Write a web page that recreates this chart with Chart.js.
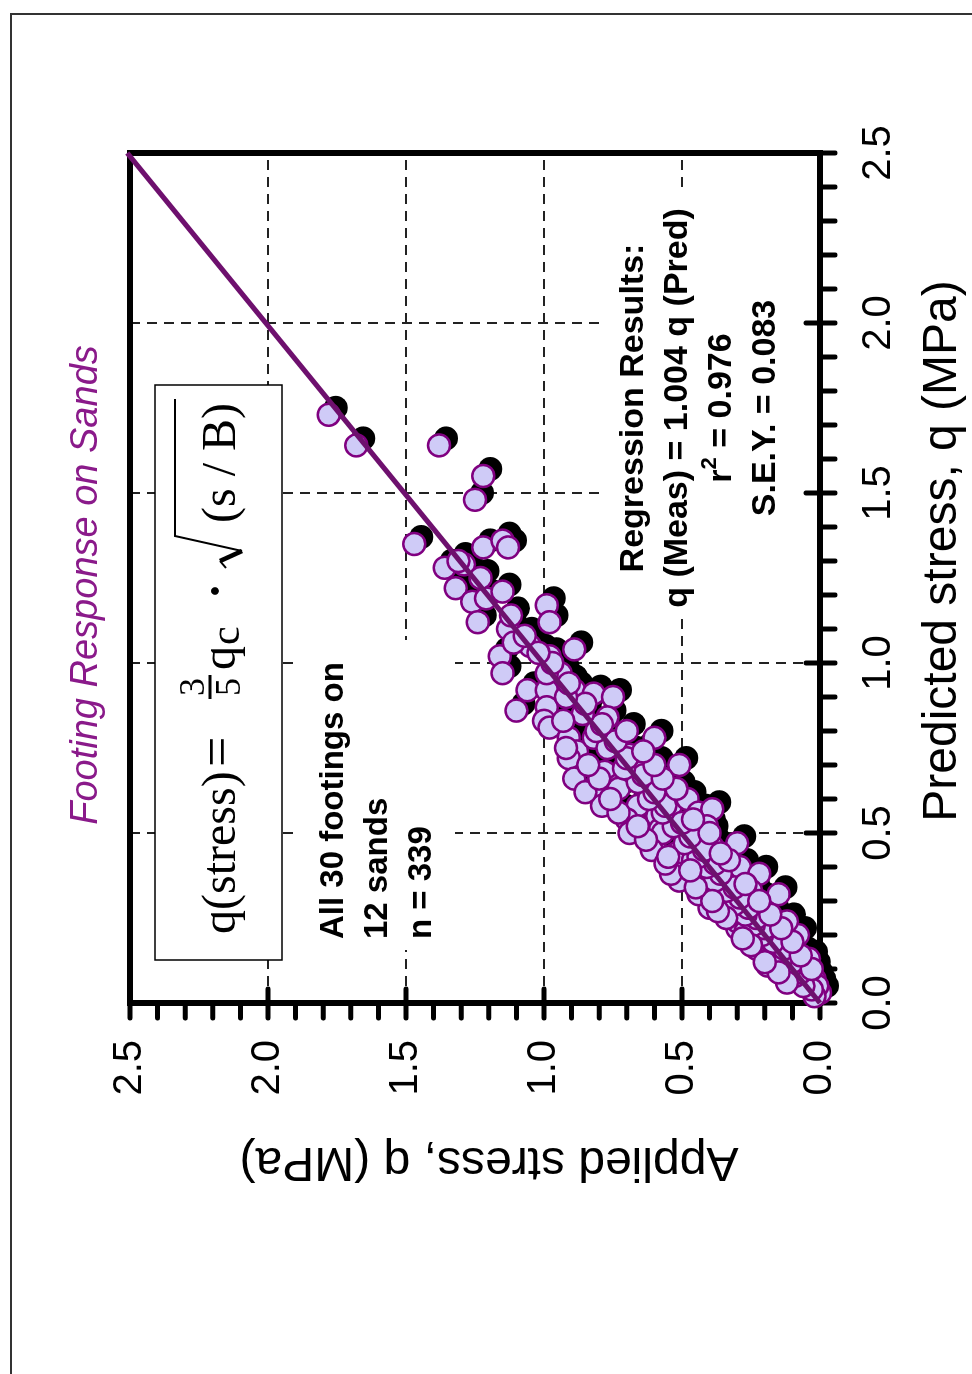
<!DOCTYPE html>
<html>
<head>
<meta charset="utf-8">
<script src="https://cdn.jsdelivr.net/npm/chart.js@4.4.0/dist/chart.umd.min.js"></script>
<style>
  html, body { margin: 0; padding: 0; background: #fff; }
  body { width: 972px; height: 1374px; position: relative; overflow: hidden; }
  #frame { position: absolute; left: 10px; top: 13px; width: 1000px; height: 1400px;
           border-top: 2px solid #333; border-left: 2px solid #333; }
  #wrap { position: absolute; left: 0; top: 0; width: 1374px; height: 972px;
          transform-origin: 0 0; transform: translateY(1374px) rotate(-90deg); }
</style>
</head>
<body>
<div id="frame"></div>
<div id="wrap"><canvas id="myChart" width="1374" height="972"></canvas></div>
<script>
var predicted = [
  1.73, 1.64, 1.64, 1.55, 1.48, 1.35, 1.28, 1.29, 1.34, 1.36, 1.34, 1.22, 1.18, 1.19, 1.21, 1.12,
  1.10, 1.17, 1.12, 1.02, 0.97, 1.05, 1.02, 0.92, 0.92, 1.06,
  1.04, 0.86, 0.87, 0.83, 0.81, 0.97, 0.92, 0.91, 0.90, 0.84, 0.78, 0.74, 0.72, 0.66, 0.78, 0.76,
  0.68, 0.64, 0.58, 0.64, 0.71, 0.78, 0.70, 0.58, 0.54, 0.50, 0.55, 0.51, 0.46, 0.58, 0.60, 0.56,
  0.44, 0.38, 0.48, 0.73, 0.75,
  0.63, 0.61, 0.57, 0.50, 0.36, 0.38, 0.52, 0.46, 0.47, 0.37, 0.28, 0.27, 0.40, 0.38, 0.33, 0.32,
  0.24, 0.22, 0.20, 0.16, 0.13, 0.11, 0.11, 0.07, 0.06, 0.03, 0.36, 0.32, 0.24, 0.21, 0.24, 0.19,
  0.15, 0.14, 0.11, 0.07, 0.05, 0.45, 0.41, 0.32, 0.42,
  0.02, 0.04, 0.05, 0.08, 0.09, 0.10, 0.12, 0.13, 0.15, 0.16, 0.18, 0.20, 0.22, 0.23, 0.25, 0.26,
  0.28, 0.29, 0.31, 0.33, 0.34, 0.36, 0.38, 0.40, 0.41, 0.43, 0.45, 0.47, 0.49, 0.52, 0.53, 0.56,
  0.58, 0.60, 0.62, 0.65, 0.67, 0.69, 0.72, 0.75, 0.77, 0.80, 0.82, 0.85, 0.88, 0.90, 0.94, 0.97,
  1.00, 1.03, 1.08, 1.14, 1.25, 1.30,
  0.06, 0.09, 0.12, 0.17, 0.19, 0.25, 0.27, 0.30, 0.34, 0.39, 0.43, 0.48, 0.52, 0.56, 0.60, 0.62,
  0.66, 0.70, 0.83,
  0.10, 0.14, 0.18, 0.22, 0.26, 0.30, 0.35, 0.42, 0.44, 0.50, 0.54, 0.63, 0.66, 0.70, 0.74, 0.80
];
var measured = [
  1.78, 1.68, 1.38, 1.22, 1.25, 1.47, 1.36, 1.29, 1.22, 1.15, 1.13, 1.32, 1.26, 1.21, 1.15, 1.24,
  1.13, 0.99, 0.98, 1.16, 1.15, 1.05, 0.98, 1.06, 0.99, 1.11,
  0.89, 1.10, 0.99, 1.00, 0.98, 0.94, 0.89, 0.82, 0.75, 0.77, 0.91, 0.88, 0.91, 0.89, 0.82, 0.76,
  0.78, 0.81, 0.79, 0.73, 0.66, 0.60, 0.51, 0.66, 0.70, 0.69, 0.59, 0.58, 0.60, 0.54, 0.48, 0.44,
  0.52, 0.51, 0.45, 0.69, 0.92,
  0.73, 0.59, 0.39, 0.57, 0.51, 0.54, 0.41, 0.39, 0.30, 0.41, 0.40, 0.35, 0.29, 0.22, 0.25, 0.15,
  0.19, 0.30, 0.08, 0.23, 0.04, 0.15, 0.19, 0.08, 0.05, 0.00, 0.35, 0.32, 0.30, 0.27, 0.12, 0.19,
  0.12, 0.17, 0.07, 0.02, 0.01, 0.61, 0.56, 0.44, 0.46,
  0.02, 0.03, 0.06, 0.09, 0.07, 0.11, 0.10, 0.14, 0.16, 0.13, 0.17, 0.21, 0.20, 0.24, 0.23, 0.27,
  0.26, 0.31, 0.29, 0.34, 0.31, 0.38, 0.36, 0.41, 0.38, 0.44, 0.42, 0.49, 0.47, 0.53, 0.50, 0.57,
  0.56, 0.62, 0.60, 0.66, 0.64, 0.71, 0.70, 0.77, 0.74, 0.81, 0.79, 0.86, 0.85, 0.92, 0.91, 0.99,
  0.97, 1.02, 1.07, 1.12, 1.23, 1.31,
  0.12, 0.15, 0.20, 0.25, 0.28, 0.34, 0.37, 0.39, 0.45, 0.47, 0.55, 0.63, 0.66, 0.73, 0.76, 0.85,
  0.80, 0.84, 0.93,
  0.03, 0.07, 0.10, 0.14, 0.18, 0.22, 0.27, 0.33, 0.36, 0.40, 0.46, 0.52, 0.57, 0.60, 0.64, 0.70
];
// regression line q(Meas) = 1.004 q(Pred)
var fitX = [0, 2.5];
var fitY = [0, 2.51];
var tickLabels = ['0.0', '0.5', '1.0', '1.5', '2.0', '2.5'];

var points = predicted.map(function (p, i) { return { x: p, y: measured[i] }; });
var fitLine = fitX.map(function (p, i) { return { x: p, y: fitY[i] }; });

var SANS = '"Liberation Sans", Arial, sans-serif';
var SERIF = '"Liberation Serif", "Times New Roman", serif';

function drawNotes(chart) {
  var ctx = chart.ctx, a = chart.chartArea;
  var L = a.left, T = a.top;
  ctx.save();

  // white patches behind the text blocks hide the grid
  ctx.fillStyle = '#fff';
  ctx.fillRect(L + 53, T + 170, 310, 155);
  ctx.fillRect(L + 388, T + 475, 425, 215);
  ctx.fillRect(L + 43, T + 25, 575, 127);

  ctx.fillStyle = '#000';
  ctx.textBaseline = 'alphabetic';

  // formula box
  ctx.lineWidth = 1.5;
  ctx.strokeStyle = '#000';
  ctx.strokeRect(L + 43, T + 25, 575, 127);
  var base = T + 105;
  ctx.textAlign = 'left';
  ctx.font = '48px ' + SERIF;
  ctx.fillText('q(stress)', L + 69, base);
  ctx.font = '54px ' + SERIF;
  ctx.fillText('=', L + 236, base);
  ctx.font = '36px ' + SERIF;
  ctx.textAlign = 'center';
  ctx.fillText('3', L + 316, base - 31);
  ctx.fillText('5', L + 316, base + 5);
  ctx.lineWidth = 3;
  ctx.beginPath(); ctx.moveTo(L + 304, base - 25); ctx.lineTo(L + 328, base - 25); ctx.stroke();
  ctx.textAlign = 'left';
  ctx.font = '48px ' + SERIF;
  ctx.fillText('q', L + 333, base);
  ctx.font = '42px ' + SERIF;
  ctx.fillText('c', L + 358, base + 4);
  ctx.font = 'bold 48px ' + SERIF;
  ctx.fillText('\u00b7', L + 404, base - 4);
  // radical sign
  ctx.lineWidth = 2;
  ctx.beginPath();
  ctx.moveTo(L + 435, base - 9);
  ctx.lineTo(L + 442, base - 15);
  ctx.stroke();
  ctx.lineWidth = 4.5;
  ctx.beginPath();
  ctx.moveTo(L + 442, base - 15);
  ctx.lineTo(L + 452, base + 7);
  ctx.stroke();
  ctx.lineWidth = 2;
  ctx.beginPath();
  ctx.moveTo(L + 452, base + 7);
  ctx.lineTo(L + 467, base - 60);
  ctx.lineTo(L + 604, base - 60);
  ctx.stroke();
  ctx.font = '48px ' + SERIF;
  ctx.fillText('(s / B)', L + 480, base);

  // sample text
  ctx.font = 'bold 33px ' + SANS;
  ctx.textAlign = 'left';
  ctx.fillText('All 30 footings on', L + 64, T + 213);
  ctx.fillText('12 sands', L + 64, T + 257);
  ctx.fillText('n = 339', L + 64, T + 301);

  // regression results
  var cx = L + 595;
  ctx.font = 'bold 34px ' + SANS;
  ctx.textAlign = 'center';
  ctx.fillText('Regression Results:', cx, T + 513);
  ctx.fillText('q (Meas) = 1.004 q (Pred)', cx, T + 557);
  var rest = ' = 0.976';
  var wR = ctx.measureText('r').width, wRest = ctx.measureText(rest).width;
  ctx.font = 'bold 22px ' + SANS;
  var w2 = ctx.measureText('2').width;
  var x0 = cx - (wR + w2 + wRest) / 2;
  ctx.textAlign = 'left';
  ctx.fillText('2', x0 + wR, T + 586);
  ctx.font = 'bold 34px ' + SANS;
  ctx.fillText('r', x0, T + 601);
  ctx.fillText(rest, x0 + wR + w2, T + 601);
  ctx.textAlign = 'center';
  ctx.fillText('S.E.Y. = 0.083', cx, T + 645);

  // chart title
  ctx.fillStyle = '#8a1a8a';
  ctx.font = 'italic 38px ' + SANS;
  ctx.fillText('Footing Response on Sands', L + 418, T - 33);

  // axis titles
  ctx.fillStyle = '#000';
  ctx.font = '48px ' + SANS;
  ctx.fillText('Predicted stress, q (MPa)', L + 452, a.bottom + 136);
  ctx.translate(226, T + 359);
  ctx.rotate(-Math.PI / 2);
  ctx.fillText('Applied stress, q (MPa)', 0, 0);
  ctx.restore();
}

var decor = {
  id: 'decor',
  beforeDatasetsDraw: function (chart) {
    var ctx = chart.ctx, a = chart.chartArea;
    var xs = chart.scales.x, ys = chart.scales.y;
    ctx.save();
    // dashed grid
    ctx.strokeStyle = '#222';
    ctx.lineWidth = 2;
    ctx.setLineDash([10, 7]);
    [0.5, 1.0, 1.5, 2.0].forEach(function (v) {
      var px = xs.getPixelForValue(v), py = ys.getPixelForValue(v);
      ctx.beginPath(); ctx.moveTo(px, a.top); ctx.lineTo(px, a.bottom); ctx.stroke();
      ctx.beginPath(); ctx.moveTo(a.left, py); ctx.lineTo(a.right, py); ctx.stroke();
    });
    ctx.restore();

    drawNotes(chart);

    ctx.save();
    // ticks
    ctx.strokeStyle = '#000';
    ctx.lineWidth = 5;
    ctx.lineCap = 'round';
    for (var i = 0; i <= 25; i++) {
      var v = i / 10, major = (i % 5 === 0);
      var px = xs.getPixelForValue(v), py = ys.getPixelForValue(v);
      ctx.beginPath();
      ctx.moveTo(px, a.bottom - (major ? 14 : 0)); ctx.lineTo(px, a.bottom + 15);
      ctx.stroke();
      ctx.beginPath();
      ctx.moveTo(a.left + (major ? 14 : 0), py); ctx.lineTo(a.left - 15, py);
      ctx.stroke();
    }
    // frame
    ctx.lineCap = 'butt';
    ctx.lineWidth = 6;
    ctx.strokeRect(a.left, a.top, a.right - a.left, a.bottom - a.top);
    ctx.restore();
  },
  beforeDatasetDraw: function (chart, args) {
    if (args.index === 2) { chart.ctx.save(); chart.ctx.translate(7, 7); }
  },
  afterDatasetDraw: function (chart, args) {
    if (args.index === 2) chart.ctx.restore();
  }
};

var ctx = document.getElementById('myChart');

var myChart = new Chart(ctx, {
  type: 'scatter',
  data: {
    datasets: [{
      label: 'fit',
      data: fitLine,
      showLine: true,
      borderColor: '#6e106e',
      borderWidth: 5,
      pointRadius: 0,
      clip: false
    }, {
      label: 'footings',
      data: points,
      pointRadius: 11,
      pointBorderWidth: 2.5,
      pointBackgroundColor: '#cfcbf7',
      pointBorderColor: '#800080',
      clip: false
    }, {
      label: 'shadow',
      data: points,
      pointRadius: 12,
      pointBorderWidth: 0,
      pointBackgroundColor: '#000',
      pointBorderColor: '#000',
      clip: false
    }]
  },
  options: {
    responsive: false,
    animation: false,
    layout: { padding: { top: 130, right: 153, left: 0, bottom: 0 } },
    plugins: { legend: { display: false }, tooltip: { enabled: false }, title: { display: false } },
    scales: {
      x: {
        type: 'linear', min: 0, max: 2.5,
        grid: { display: false, drawTicks: false },
        border: { display: false },
        ticks: {
          stepSize: 0.5, padding: 35, color: '#000',
          font: { family: SANS, size: 40 },
          callback: function (v) { return tickLabels[Math.round(v / 0.5)]; }
        },
        afterFit: function (s) { s.height = 152; }
      },
      y: {
        type: 'linear', min: 0, max: 2.5,
        grid: { display: false, drawTicks: false },
        border: { display: false },
        ticks: {
          stepSize: 0.5, padding: 37, color: '#000',
          font: { family: SANS, size: 40 },
          callback: function (v) { return tickLabels[Math.round(v / 0.5)]; }
        },
        afterFit: function (s) { s.width = 371; }
      }
    }
  },
  plugins: [decor]
});
</script>
</body>
</html>
